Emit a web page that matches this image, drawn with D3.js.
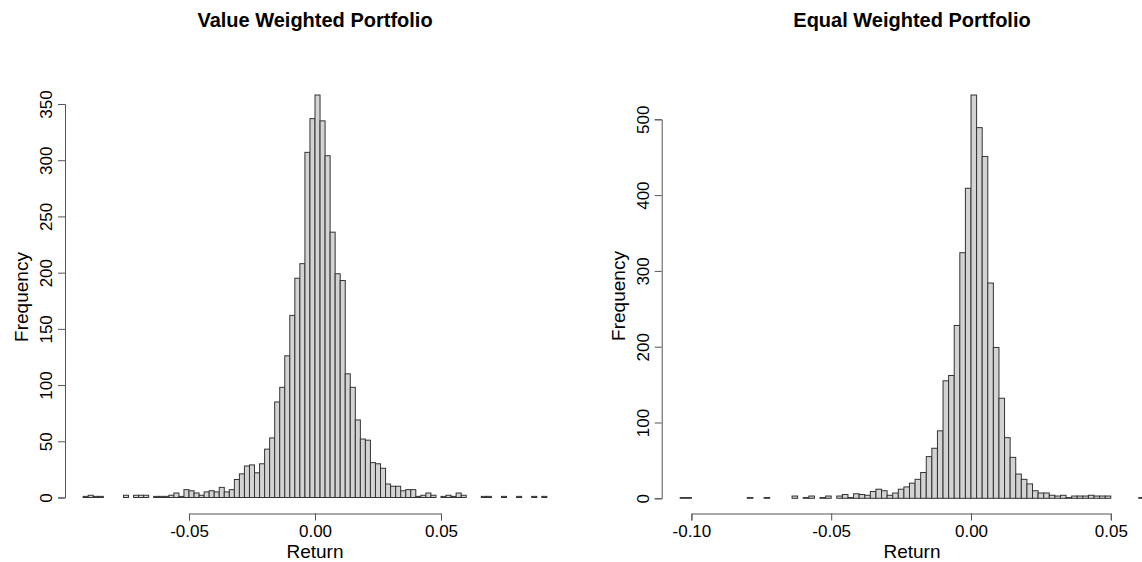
<!DOCTYPE html>
<html>
<head>
<meta charset="utf-8">
<script src="https://cdn.jsdelivr.net/npm/d3@7/dist/d3.min.js"></script>
<style>
  html, body { margin: 0; padding: 0; background: #ffffff; }
  svg { display: block; }
  text { font-family: "Liberation Sans", Arial, sans-serif; fill: #000; }
</style>
</head>
<body>
<svg id="chart" width="1142" height="562"></svg>
<script>
// Histogram bins are 0.002 wide; each panel lists its first break and its counts.
const binWidth = 0.002;

// Value weighted portfolio daily returns
const vwFirstBreak = -0.092;
const vwCounts = [
  1, 2, 1, 1, 0, 0, 0, 0, 2, 0,
  2, 2, 2, 0, 1, 1, 1, 2, 4, 1,
  7, 6, 4, 2, 5, 6, 5, 9, 5, 7,
  16, 21, 28, 29, 22, 30, 43, 53, 85, 98,
  126, 162, 195, 208, 307, 337, 358, 335, 304, 236,
  199, 193, 110, 98, 69, 52, 51, 31, 30, 26,
  12, 10, 10, 6, 7, 7, 1, 2, 4, 2,
  0, 1, 2, 1, 4, 2, 0, 0, 0, 1,
  1, 0, 0, 1, 0, 0, 1, 0, 0, 1,
  0, 1
];
const vwXTicks = [-0.05, 0, 0.05];
const vwXTickLabels = ["-0.05", "0.00", "0.05"];
const vwYTicks = [0, 50, 100, 150, 200, 250, 300, 350];

// Equal weighted portfolio daily returns
const ewFirstBreak = -0.104;
const ewCounts = [
  1, 1, 0, 0, 0, 0, 0, 0, 0, 0,
  0, 0, 1, 0, 0, 1, 0, 0, 0, 0,
  3, 0, 1, 3, 0, 1, 3, 0, 3, 5,
  1, 6, 5, 4, 9, 12, 10, 4, 7, 12,
  15, 20, 25, 34, 55, 66, 89, 155, 162, 228,
  324, 409, 532, 489, 451, 284, 199, 132, 80, 54,
  32, 25, 19, 10, 7, 7, 4, 3, 4, 1,
  3, 3, 3, 4, 3, 3, 3, 0, 0, 0,
  0, 0, 1
];
const ewXTicks = [-0.10, -0.05, 0, 0.05];
const ewXTickLabels = ["-0.10", "-0.05", "0.00", "0.05"];
const ewYTicks = [0, 100, 200, 300, 400, 500];

const svg = d3.select("#chart");

function drawPanel(opts) {
  const g = svg.append("g");
  const x = d3.scaleLinear()
    .domain([opts.xTicks[0], opts.xTicks[opts.xTicks.length - 1]])
    .range(opts.xRange);
  const y = d3.scaleLinear()
    .domain([opts.yTicks[0], opts.yTicks[opts.yTicks.length - 1]])
    .range(opts.yRange);

  const bins = opts.counts.map((c, i) => ({
    x0: opts.firstBreak + i * binWidth,
    x1: opts.firstBreak + (i + 1) * binWidth,
    count: c
  }));

  // bars
  g.append("g")
    .selectAll("rect")
    .data(bins)
    .join("rect")
    .attr("x", d => x(d.x0))
    .attr("width", d => x(d.x1) - x(d.x0))
    .attr("y", d => y(d.count))
    .attr("height", d => y(0) - y(d.count))
    .attr("fill", "#d3d3d3")
    .attr("stroke", "#333")
    .attr("stroke-width", 1);

  // x axis, drawn below the bars
  const xAxis = d3.axisBottom(x)
    .tickValues(opts.xTicks)
    .tickFormat((d, i) => opts.xTickLabels[i])
    .tickSizeOuter(0)
    .tickSize(7)
    .tickPadding(6);
  const gx = g.append("g")
    .attr("transform", `translate(0,${opts.xAxisY})`)
    .call(xAxis);
  gx.selectAll("path, line").attr("stroke", "#555");
  gx.selectAll("text")
    .attr("font-size", 17)
    .attr("font-family", "Liberation Sans, Arial, sans-serif")
    .attr("fill", "#000")
    .attr("dy", null)
    .attr("y", 23);

  // y axis, set off to the left of the bars
  const yAxis = d3.axisLeft(y)
    .tickValues(opts.yTicks)
    .tickSizeOuter(0)
    .tickSize(7);
  const gy = g.append("g")
    .attr("transform", `translate(${opts.yAxisX},0)`)
    .call(yAxis);
  gy.selectAll("path, line").attr("stroke", "#555");
  gy.selectAll("text")
    .attr("font-size", 17)
    .attr("font-family", "Liberation Sans, Arial, sans-serif")
    .attr("fill", "#000")
    .attr("text-anchor", "middle")
    .attr("transform", "rotate(-90)")
    .attr("x", 0)
    .attr("dy", null)
    .attr("y", -13);

  // titles
  g.append("text")
    .attr("x", opts.centerX)
    .attr("y", 27)
    .attr("text-anchor", "middle")
    .attr("font-size", 20)
    .attr("font-weight", "bold")
    .text(opts.title);

  g.append("text")
    .attr("x", opts.centerX)
    .attr("y", 558)
    .attr("text-anchor", "middle")
    .attr("font-size", 19)
    .text("Return");

  g.append("text")
    .attr("transform", `translate(${opts.yLabelX},${opts.yLabelY}) rotate(-90)`)
    .attr("text-anchor", "middle")
    .attr("font-size", 19)
    .text("Frequency");
}

drawPanel({
  title: "Value Weighted Portfolio",
  counts: vwCounts,
  firstBreak: vwFirstBreak,
  xTicks: vwXTicks,
  xTickLabels: vwXTickLabels,
  yTicks: vwYTicks,
  xRange: [189, 441],
  yRange: [497.5, 104],
  xAxisY: 513.5,
  yAxisX: 65,
  centerX: 315,
  yLabelX: 28,
  yLabelY: 297
});

drawPanel({
  title: "Equal Weighted Portfolio",
  counts: ewCounts,
  firstBreak: ewFirstBreak,
  xTicks: ewXTicks,
  xTickLabels: ewXTickLabels,
  yTicks: ewYTicks,
  xRange: [691.4, 1110.8],
  yRange: [498.3, 119.3],
  xAxisY: 513.5,
  yAxisX: 661.7,
  centerX: 912,
  yLabelX: 625,
  yLabelY: 296
});
</script>
</body>
</html>
